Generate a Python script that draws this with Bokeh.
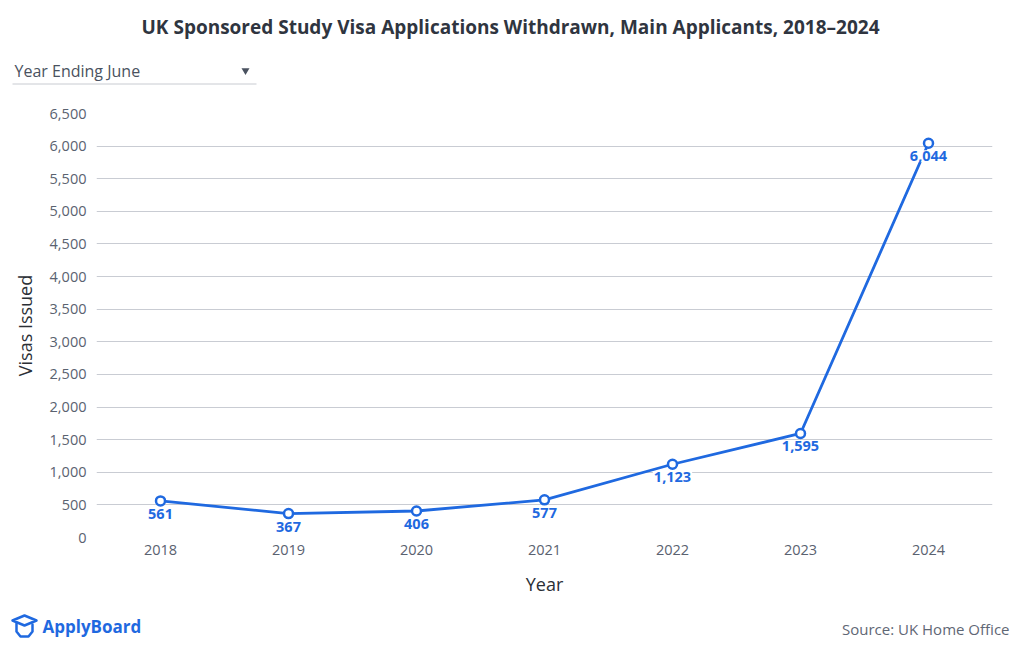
from bokeh.plotting import figure
from bokeh.models import ColumnDataSource, NumeralTickFormatter, FixedTicker, Range1d
from bokeh.core.properties import value
from bokeh.embed import file_html
from bokeh.resources import INLINE

years = ["2018", "2019", "2020", "2021", "2022", "2023", "2024"]
withdrawn = [561, 367, 406, 577, 1123, 1595, 6044]
labels = ["561", "367", "406", "577", "1,123", "1,595", "6,044"]
y_ticks = [0, 500, 1000, 1500, 2000, 2500, 3000, 3500, 4000, 4500, 5000, 5500, 6000, 6500]

title_text = "UK Sponsored Study Visa Applications Withdrawn, Main Applicants, 2018\u20132024"
dropdown_text = "Year Ending June"
source_text = "Source: UK Home Office"
brand_text = "ApplyBoard"

FONT = "Open Sans"
BLUE = "#1f69e0"
GREY = "#5a6270"
W = 1020


def blank(h):
    f = figure(width=W, height=h, x_range=Range1d(0, W), y_range=Range1d(h, 0),
               output_backend="svg", toolbar_location=None, min_border=0)
    f.axis.visible = False
    f.grid.visible = False
    f.outline_line_color = None
    return f


# ---- header (page y 0..98) ----
hdr = blank(98)
hdr.text(x=[510], y=[26], text=[title_text], text_align="center", text_baseline="middle",
         text_font=value(FONT), text_font_size="19px", text_font_style="bold", text_color="#2f3540")
hdr.text(x=[14], y=[70], text=[dropdown_text], text_align="left", text_baseline="middle",
         text_font=value(FONT), text_font_size="16px", text_color="#4a5260")
hdr.scatter(x=[245], y=[70], marker="inverted_triangle", size=8, fill_color="#4a5260", line_color=None)
hdr.line(x=[12, 256], y=[83.5, 83.5], line_color="#c8cbd1", line_width=1)

# ---- main chart (page y 98..607) ----
src = ColumnDataSource(dict(x=years, y=withdrawn, t=labels))

p = figure(x_range=years, y_range=Range1d(0, 6500), width=W, height=509,
           output_backend="svg", toolbar_location=None,
           min_border_left=96, min_border_right=28, min_border_top=15, min_border_bottom=70)
p.outline_line_color = None

p.line("x", "y", source=src, line_color=BLUE, line_width=2.8)
p.scatter("x", "y", source=src, size=9, fill_color="white", line_color=BLUE, line_width=2.5)
p.text("x", "y", text="t", source=src, text_align="center", text_baseline="top",
       y_offset=7, text_color=BLUE, text_font=value(FONT), text_font_size="14.5px",
       text_font_style="bold", background_fill_color="white", padding=1)

p.yaxis.ticker = FixedTicker(ticks=y_ticks)
p.yaxis.formatter = NumeralTickFormatter(format="0,0")
for ax in (p.xaxis[0], p.yaxis[0]):
    ax.axis_line_color = None
    ax.major_tick_line_color = None
    ax.minor_tick_line_color = None
    ax.major_label_text_color = GREY
    ax.major_label_text_font = FONT
    ax.major_label_text_font_size = "14.5px"
    ax.axis_label_text_font = FONT
    ax.axis_label_text_font_style = "normal"
    ax.axis_label_text_font_size = "18px"
    ax.axis_label_text_color = "#2b2f36"
p.yaxis.axis_label = "Visas Issued"
p.xaxis.axis_label = "Year"
p.yaxis.major_label_standoff = 4
p.xaxis.major_label_standoff = 1
p.xaxis.axis_label_standoff = 14
p.yaxis.axis_label_standoff = 10
p.xgrid.grid_line_color = None
p.ygrid.grid_line_color = "#c9ccd3"
p.ygrid.grid_line_width = 1

# ---- footer (page y 607..650) ----
ftr = blank(43)
ftr.patch(x=[12, 24, 36, 24], y=[13, 8, 13, 18], fill_color=None, line_color=BLUE, line_width=2.5,
          line_join="round")
ftr.line(x=[16, 16, 20, 28, 32, 32], y=[16, 24, 29, 29, 24, 17], line_color=BLUE, line_width=2.5,
         line_join="round", line_cap="round")
ftr.text(x=[42], y=[19], text=[brand_text], text_align="left", text_baseline="middle",
         text_font=value(FONT), text_font_size="17px", text_font_style="bold", text_color=BLUE)
ftr.text(x=[1009], y=[21], text=[source_text], text_align="right", text_baseline="middle",
         text_font=value(FONT), text_font_size="15px", text_color="#5f6775")

open("out.html", "w").write(file_html([hdr, p, ftr], INLINE))
